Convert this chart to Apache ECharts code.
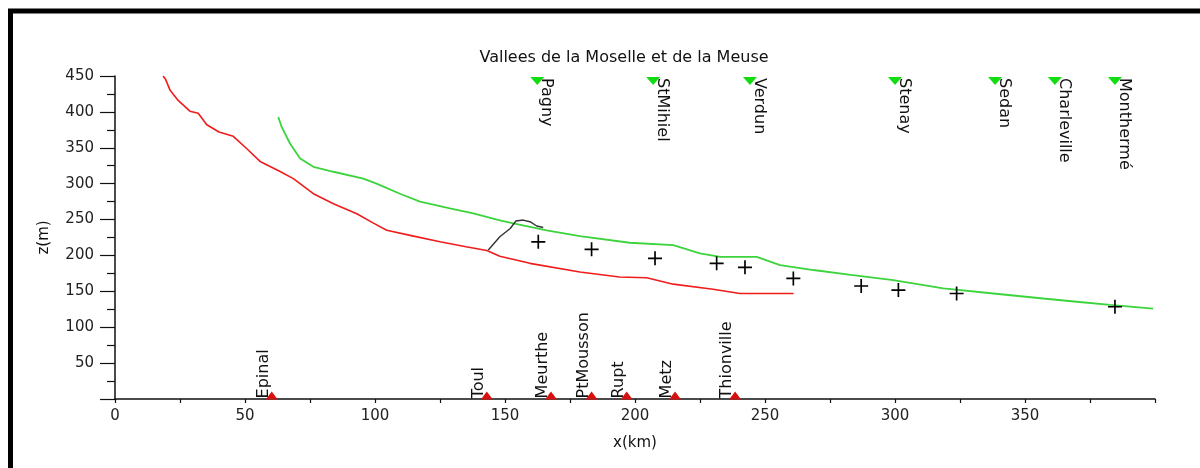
<!DOCTYPE html>
<html>
<head>
<meta charset="utf-8">
<script src="https://cdn.jsdelivr.net/npm/echarts@6/dist/echarts.min.js"></script>
<style>
  html, body { margin: 0; padding: 0; background: #ffffff; }
  #chart { width: 1200px; height: 468px; }
</style>
</head>
<body>
<div id="chart"></div>
<script>
// Longitudinal profiles of the Moselle and Meuse valleys: distance (km) vs elevation (m)

// Moselle valley floor
const moselleKm = [18.5, 19.5, 21.2, 24.3, 28.8, 32, 35.3, 40, 45.5, 50.6, 55.8, 63.5, 68.6, 76.3, 84, 93, 99.4, 104.5, 113.5, 125, 135, 143, 148, 159.6, 178.8, 194, 204.5, 214.7, 230, 240.4, 261];
const moselleZ  = [450, 445, 430, 416, 401, 398, 382, 372, 366, 349, 331, 317, 307, 286, 272, 258, 245, 235, 228, 219, 212, 207, 199, 189, 177, 170, 169, 160, 153, 147, 147];

// Meuse valley floor
const meuseKm = [62.8, 64.1, 67.3, 71.2, 76.3, 84, 95.5, 100.6, 109.6, 117.3, 128.8, 137.8, 148, 153.2, 166, 178.8, 198, 214.7, 225, 232.7, 246.8, 255.8, 268.6, 283, 299.3, 318.6, 337.8, 357, 369.9, 382.7, 399.3];
const meuseZ  = [393, 379, 356, 335, 323.5, 316.6, 307, 300, 286, 275, 265.5, 258.5, 249, 244.6, 235, 227, 217.7, 214.5, 203, 198, 198, 186.6, 179.7, 173, 165.7, 154, 147, 140, 135.5, 131, 126];

// Divide between the two valleys near Toul
const divideKm = [143.6, 148, 152, 154.2, 157, 159.6, 162.2, 164.7];
const divideZ  = [207.5, 226, 237.6, 248, 249.3, 247, 241, 239];

// Surveyed terrace points
const pointKm = [162.8, 183.3, 207.7, 231.4, 242.3, 260.9, 287, 301.3, 323.7, 384.6];
const pointZ  = [219, 208.5, 196, 189, 183.5, 168, 157.4, 151.8, 147, 128.5];

// Towns along the Meuse (top markers)
const meuseTowns   = ['Pagny', 'StMihiel', 'Verdun', 'Stenay', 'Sedan', 'Charleville', 'Monthermé'];
const meuseTownKm  = [162.4, 207, 244.2, 300, 338.5, 361.5, 384.6];

// Towns along the Moselle (bottom markers)
const moselleTowns  = ['Epinal', 'Toul', 'Meurthe', 'PtMousson', 'Rupt', 'Metz', 'Thionville'];
const moselleTownKm = [60.3, 143, 167.7, 183.3, 196.8, 215.4, 238.5];

// Axis ranges and step
const xMin = 0, xMax = 400, xStep = 50;
const yMin = 0, yMax = 450, yStep = 50;
const topMarkerZ = 443;
const bottomMarkerZ = 5;

const FONT = 'DejaVu Sans';
const INK = '#111';
const zip = (a, b) => a.map((v, i) => [v, b[i]]);

const chart = echarts.init(document.getElementById('chart'), null, { renderer: 'canvas' });

chart.setOption({
  animation: false,
  backgroundColor: '#ffffff',
  textStyle: { fontFamily: FONT },
  title: {
    text: 'Vallees de la Moselle et de la Meuse',
    left: 619,
    top: 45,
    textAlign: 'center',
    textStyle: { fontFamily: FONT, fontSize: 16, fontWeight: 'normal', color: INK }
  },
  graphic: [{
    type: 'rect',
    silent: true,
    shape: { x: 10.5, y: 11, width: 1400, height: 700 },
    style: { fill: 'none', stroke: '#000', lineWidth: 5 }
  }],
  grid: { left: 115, right: 45, top: 76, bottom: 69 },
  xAxis: {
    type: 'value',
    min: xMin, max: xMax, interval: xStep,
    name: 'x(km)',
    nameLocation: 'middle',
    nameGap: 37,
    nameTextStyle: { fontFamily: FONT, fontSize: 15, color: INK },
    axisLine: { show: true, onZero: false, lineStyle: { color: '#111', width: 1.5 } },
    axisTick: { show: true, length: 4, lineStyle: { color: '#111', width: 1.2 } },
    minorTick: { show: true, splitNumber: 2, length: 4, lineStyle: { color: '#111', width: 1.2 } },
    axisLabel: { margin: 10, fontFamily: FONT, fontSize: 15, color: '#222', showMaxLabel: false },
    splitLine: { show: false }
  },
  yAxis: {
    type: 'value',
    min: yMin, max: yMax, interval: yStep,
    name: 'z(m)',
    nameLocation: 'middle',
    nameGap: 63,
    nameRotate: 90,
    nameTextStyle: { fontFamily: FONT, fontSize: 15, color: INK },
    axisLine: { show: true, onZero: false, lineStyle: { color: '#111', width: 1.5 } },
    axisTick: { show: true, length: 15, lineStyle: { color: '#111', width: 1.2 } },
    minorTick: { show: true, splitNumber: 2, length: 8, lineStyle: { color: '#111', width: 1.2 } },
    axisLabel: { margin: 21, fontFamily: FONT, fontSize: 15, color: '#222', showMinLabel: false },
    splitLine: { show: false }
  },
  series: [
    {
      name: 'Moselle',
      type: 'line',
      data: zip(moselleKm, moselleZ),
      showSymbol: false,
      lineStyle: { color: '#f01c1c', width: 1.6 },
      z: 3
    },
    {
      name: 'Meuse',
      type: 'line',
      data: zip(meuseKm, meuseZ),
      showSymbol: false,
      lineStyle: { color: '#3cd43c', width: 1.8 },
      z: 3
    },
    {
      name: 'Divide',
      type: 'line',
      data: zip(divideKm, divideZ),
      showSymbol: false,
      lineStyle: { color: '#333', width: 1.4 },
      z: 4
    },
    {
      name: 'Points',
      type: 'scatter',
      data: zip(pointKm, pointZ),
      symbol: 'path://M0,4.4h10v1.2h-10z M4.4,0h1.2v10h-1.2z',
      symbolSize: 14,
      itemStyle: { color: '#000', opacity: 1 },
      z: 5
    },
    {
      name: 'Meuse towns',
      type: 'scatter',
      data: meuseTowns.map((n, i) => ({ name: n, value: [meuseTownKm[i], topMarkerZ] })),
      symbol: 'triangle',
      symbolRotate: 180,
      symbolSize: [14, 8],
      itemStyle: { color: '#11dd11', opacity: 1 },
      label: {
        show: true,
        formatter: '{b}',
        position: [8, 1],
        rotate: -90,
        align: 'left',
        verticalAlign: 'bottom',
        fontFamily: FONT,
        fontSize: 16,
        color: INK
      },
      z: 6
    },
    {
      name: 'Moselle towns',
      type: 'scatter',
      data: moselleTowns.map((n, i) => ({ name: n, value: [moselleTownKm[i], bottomMarkerZ] })),
      symbol: 'triangle',
      symbolSize: [12, 8],
      itemStyle: { color: '#d81010', opacity: 1 },
      label: {
        show: true,
        formatter: '{b}',
        position: [6, 7],
        rotate: 90,
        align: 'left',
        verticalAlign: 'bottom',
        fontFamily: FONT,
        fontSize: 16,
        color: INK
      },
      z: 6
    }
  ]
});
</script>
</body>
</html>
